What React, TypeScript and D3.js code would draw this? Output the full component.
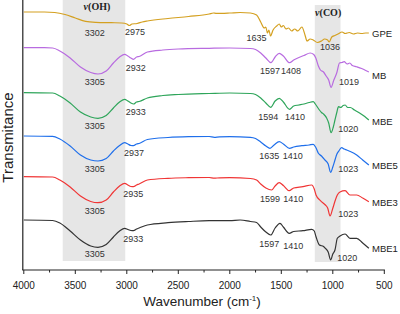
import React from "react";
import * as d3 from "d3";

type P = [number, number];

const GPE: P[] = [[4000,258],[3800,258],[3700,257.5],[3600,255.5],[3500,252],[3400,248.7],[3300,247.7],[3150,247.3],[3050,247],[3000,246],[2975,244.5],[2950,246],[2900,246.5],[2850,248],[2800,249],[2600,251.5],[2400,253.5],[2200,256],[2160,257],[2130,256.6],[2000,257],[1900,257.5],[1800,257],[1740,255],[1700,248],[1665,242],[1650,243],[1635,237],[1620,240],[1605,234],[1580,240],[1545,244],[1520,246],[1500,243],[1480,244.5],[1455,241],[1430,242],[1400,239],[1370,241],[1340,239],[1300,243],[1270,235],[1250,229],[1220,231],[1190,230],[1150,227.5],[1110,229],[1080,231],[1050,230],[1036,228],[1010,233],[980,234.5],[950,236],[910,238],[880,236.5],[840,237.5],[800,236],[760,237],[720,236.5],[680,237],[650,237]];
const MB: P[] = [[4000,222.3],[3800,222.3],[3720,222],[3650,219],[3550,212],[3450,203],[3350,197.5],[3280,196],[3200,199],[3130,207],[3070,213],[3020,215.7],[2990,214],[2960,212],[2935,210.7],[2905,213],[2880,213.5],[2800,218],[2650,220],[2500,221],[2200,221.7],[2000,222],[1800,221.5],[1750,220.5],[1700,217],[1650,212],[1600,207.3],[1560,213],[1520,216.7],[1480,214],[1420,207.3],[1380,210],[1340,212],[1280,214.5],[1220,217],[1185,215.5],[1165,212],[1140,204],[1120,200],[1090,198],[1065,194],[1040,190],[1017,182.7],[990,190],[962,197],[935,207],[910,207.5],[890,208.3],[860,206],[835,207],[810,204.5],[770,203.3],[720,201.5],[680,199.5],[650,198]];
const MBE: P[] = [[4000,177.3],[3720,177],[3650,174],[3550,167],[3450,158],[3350,153],[3280,151.7],[3200,154.5],[3130,162],[3070,168],[3020,170.7],[2990,169],[2960,167],[2935,166],[2905,168],[2880,168.5],[2800,172],[2650,174.5],[2500,175.5],[2200,176.5],[2000,177],[1800,176.5],[1750,175.5],[1700,172],[1650,167],[1603,162.7],[1560,169],[1520,171.7],[1480,168],[1420,160.7],[1380,164],[1330,165],[1280,166],[1230,167.5],[1190,168.3],[1170,166],[1150,163],[1130,160],[1110,157.5],[1090,156],[1060,152],[1040,147],[1017,137.3],[995,143],[979,150],[960,158],[945,163.3],[920,162.5],[900,164.5],[880,165],[855,162.5],[830,162.5],[790,160],[740,157],[690,153.5],[650,150]];
const MBE5: P[] = [[4000,134],[3720,133.7],[3650,131],[3550,124],[3450,115],[3350,110],[3280,109],[3200,111.5],[3130,119],[3070,124.5],[3020,127.3],[2990,126],[2960,124.5],[2935,124.3],[2905,126],[2880,126.5],[2800,130.5],[2600,132.5],[2400,133.3],[2200,133.5],[2150,132.6],[2100,133.2],[2000,133.3],[1800,132.7],[1750,131.5],[1700,128],[1650,124],[1610,121.7],[1570,125],[1520,128.3],[1480,126],[1420,121.7],[1380,123],[1300,124.3],[1230,125],[1190,125.7],[1165,122.5],[1140,116.7],[1110,114],[1076,110],[1045,106],[1021,97.7],[1000,103],[979,110],[960,116],[946,118.3],[914,122.3],[890,121],[865,120],[830,118.5],[768,115],[710,110],[650,105]];
const MBE3: P[] = [[4000,93.3],[3720,93],[3650,90],[3550,83],[3450,74],[3350,68.5],[3280,67.3],[3200,70],[3130,78],[3070,84],[3020,86.7],[2990,85],[2960,83.5],[2935,83.3],[2905,85],[2880,86],[2800,90],[2600,91.7],[2400,92.3],[2200,92.5],[2150,91.8],[2100,92.2],[2000,92.3],[1800,91.5],[1740,90],[1700,86],[1650,82],[1594,80],[1560,84],[1520,87.3],[1480,84.5],[1423,79.3],[1380,82],[1290,83.3],[1205,85],[1180,81],[1163,75],[1120,69.3],[1072,65],[1050,62],[1027,54],[1000,61.7],[975,70],[956,75],[930,78],[881,79.3],[833,75],[768,75],[710,72],[650,68.3]];
const MBE1: P[] = [[4000,50],[3720,49.5],[3650,47],[3550,39],[3450,30],[3350,24],[3280,22.7],[3200,25.5],[3130,33],[3070,39],[3020,41.7],[2990,40.5],[2960,39.5],[2935,39.3],[2905,41],[2880,42],[2800,45],[2600,47.3],[2400,48.5],[2200,49.3],[2000,49.3],[1900,50],[1800,48.5],[1740,47.5],[1700,43],[1650,38],[1603,35],[1560,42],[1513,46.7],[1480,43],[1423,36.7],[1380,38.5],[1290,39.3],[1205,40.7],[1180,39],[1163,33.3],[1130,25],[1090,23.5],[1072,21.7],[1045,18],[1021,10],[1000,16],[979,20],[956,31.7],[930,34],[881,36],[833,31.7],[768,31.7],[710,27],[650,21.7]];

const seriesNames = ["GPE", "MB", "MBE", "MBE5", "MBE3", "MBE1"];
const seriesData = [GPE, MB, MBE, MBE5, MBE3, MBE1];
const seriesColors = ["#D4A020", "#B86BE0", "#2EA55A", "#1F6FEB", "#F03535", "#333333"];
const nameLabelT = [236.5, 195, 149, 105, 68, 22];

const xTicks = [4000, 3500, 3000, 2500, 2000, 1500, 1000, 500];
const minorTicks = [3750, 3250, 2750, 2250, 1750, 1250, 750];

// peak annotations: [wavenumber position, transmittance position, text]
const peakLabels: [number, number, string][] = [
  [3310, 237, "3302"], [2920, 238.5, "2975"],
  [3310, 188.5, "3305"], [2914, 202.5, "2932"],
  [3310, 144, "3305"], [2914, 158, "2933"],
  [3310, 101.5, "3305"], [2930, 117.5, "2937"],
  [3310, 59, "3305"], [2937, 76, "2935"],
  [3310, 16, "3305"], [2937, 31.5, "2933"],
  [1740, 232, "1635"], [1027, 223.5, "1036"],
  [1610, 199, "1597"], [1406, 199, "1408"], [843, 188, "1019"],
  [1626, 153.5, "1594"], [1367, 153.5, "1410"], [849, 141, "1020"],
  [1617, 114, "1635"], [1389, 114, "1410"], [849, 101, "1023"],
  [1610, 71.5, "1599"], [1383, 71.5, "1410"], [849, 56.5, "1023"],
  [1617, 26.5, "1597"], [1383, 24, "1410"], [859, 12.5, "1020"],
];

const bands: [number, number, number, number][] = [
  [3622, 3015, 9, 270],
  [1175, 925, 8, 265],
];
const bandLabels: [number, number, string][] = [[3290, 264, "(OH)"], [1045, 258, "(CO)"]];

export default function App() {
  const W = 400, H = 314;
  const x = d3.scaleLinear().domain([4000, 500]).range([23.8, 384.3]);
  const y = d3.scaleLinear().domain([0, 270]).range([270, 0]);
  const line = d3.line<P>().x(d => x(d[0])).y(d => y(d[1])).curve(d3.curveMonotoneX);
  const font = "'Liberation Sans', Arial, sans-serif";
  return (
    <svg width={W} height={H} style={{ position: "absolute", left: 0, top: 0, background: "#fff" }}>
      {bands.map((b, i) => (
        <rect key={i} x={x(b[0])} width={x(b[1]) - x(b[0])} y={y(b[3])} height={y(b[2]) - y(b[3])} fill="#e6e6e6" />
      ))}
      {bandLabels.map((b, i) => (
        <text key={i} x={x(b[0])} y={y(b[1])} textAnchor="middle" dominantBaseline="central"
          fontFamily="'Liberation Serif', 'Times New Roman', serif" fontWeight="bold" fontSize={10} fill="#222">
          <tspan fontStyle="italic">ν</tspan>{b[2]}
        </text>
      ))}
      {seriesData.map((d, i) => (
        <path key={i} d={line(d) || ""} fill="none" stroke={seriesColors[i]} strokeWidth={1.2} />
      ))}
      {seriesNames.map((n, i) => (
        <text key={n} x={372} y={y(nameLabelT[i])} dominantBaseline="central" fontFamily={font} fontSize={9.5} fill="#222">{n}</text>
      ))}
      {peakLabels.map((p, i) => (
        <text key={i} x={x(p[0])} y={y(p[1])} textAnchor="middle" dominantBaseline="central" fontFamily={font} fontSize={9} fill="#333">{p[2]}</text>
      ))}
      <line x1={x(4000) - 1} x2={x(4000) - 1} y1={0} y2={y(0)} stroke="#222" strokeWidth={1.2} />
      <line x1={x(4000) - 1.6} x2={x(500) + 0.6} y1={y(0)} y2={y(0)} stroke="#222" strokeWidth={1.2} />
      {xTicks.map(t => (
        <g key={t}>
          <line x1={x(t)} x2={x(t)} y1={y(0)} y2={y(0) + 4} stroke="#222" strokeWidth={1} />
          <text x={x(t)} y={288.5} textAnchor="middle" fontFamily={font} fontSize={10} fill="#222">{t}</text>
        </g>
      ))}
      {minorTicks.map(t => (
        <line key={t} x1={x(t)} x2={x(t)} y1={y(0)} y2={y(0) + 2.5} stroke="#222" strokeWidth={1} />
      ))}
      <text x={202} y={306} textAnchor="middle" fontFamily={font} fontSize={13.5} fill="#222">
        Wavenumber (cm<tspan dy={-5} fontSize={8}>-1</tspan><tspan dy={5}>)</tspan>
      </text>
      <text transform="translate(13.3,137.5) rotate(-90)" textAnchor="middle" fontFamily={font} fontSize={15} fill="#222">Transmitance</text>
    </svg>
  );
}
